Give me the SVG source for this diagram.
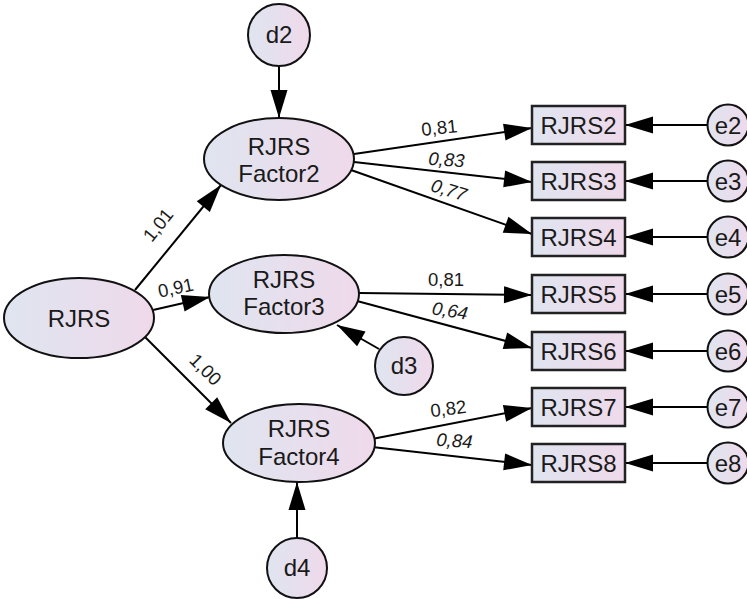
<svg xmlns="http://www.w3.org/2000/svg" width="747" height="599" viewBox="0 0 747 599">
  <defs>
    <linearGradient id="fill" x1="0" y1="0" x2="1" y2="0">
      <stop offset="0" stop-color="#dfe5f0"/>
      <stop offset="1" stop-color="#efd9ea"/>
    </linearGradient>
    <marker id="arrow" markerUnits="userSpaceOnUse" markerWidth="28" markerHeight="17" refX="28" refY="8.5" orient="auto" overflow="visible">
      <path d="M0,0 L28,8.5 L0,17 Z" fill="#000"/>
    </marker>
    <style>
      .shape { fill: url(#fill); stroke: #111; stroke-width: 2; }
      .box { fill: url(#fill); stroke: #222; stroke-width: 2.5; }
      .lbl { font-family: "Liberation Sans", Arial, sans-serif; font-size: 24px; fill: #1a1a1a; text-anchor: middle; }
      .coef { font-family: "Liberation Sans", Arial, sans-serif; font-size: 18.5px; fill: #1a1a1a; text-anchor: middle; }
      .it { font-style: italic; }
      .conn line { stroke: #000; stroke-width: 2; marker-end: url(#arrow); }
    </style>
  </defs>
  <rect width="747" height="599" fill="#fff"/>

  <!-- paths and error terms -->
  <g id="connectors" class="conn">
    <line x1="135" y1="290" x2="221" y2="185"/>
    <line x1="153" y1="310" x2="210" y2="297"/>
    <line x1="145" y1="337" x2="231" y2="423"/>
    <line x1="279" y1="66" x2="279" y2="118"/>
    <line x1="379" y1="349" x2="337" y2="325"/>
    <line x1="297" y1="538" x2="297" y2="482"/>
    <line x1="354" y1="154" x2="532" y2="128"/>
    <line x1="354" y1="162" x2="532" y2="182"/>
    <line x1="351" y1="170" x2="532" y2="234"/>
    <line x1="359" y1="293" x2="532" y2="295"/>
    <line x1="357" y1="301" x2="532" y2="348"/>
    <line x1="372" y1="439" x2="532" y2="408"/>
    <line x1="372" y1="447" x2="532" y2="465"/>
    <line x1="708" y1="125" x2="625" y2="125"/>
    <line x1="708" y1="181" x2="625" y2="181"/>
    <line x1="708" y1="237" x2="625" y2="237"/>
    <line x1="708" y1="294" x2="625" y2="294"/>
    <line x1="708" y1="351" x2="625" y2="351"/>
    <line x1="708" y1="407" x2="625" y2="407"/>
    <line x1="708" y1="463" x2="625" y2="463"/>
  </g>

  <!-- path coefficients -->
  <g id="coefficients">
    <text class="coef" transform="translate(163,229) rotate(-51)">1,01</text>
    <text class="coef" transform="translate(177,294) rotate(-12)">0,91</text>
    <text class="coef" transform="translate(201,374) rotate(45)">1,00</text>
    <text class="coef" transform="translate(440,134) rotate(-6)">0,81</text>
    <text class="coef it" transform="translate(446,166) rotate(4)">0,83</text>
    <text class="coef it" transform="translate(447,196) rotate(17)">0,77</text>
    <text class="coef" transform="translate(446,286)">0,81</text>
    <text class="coef it" transform="translate(449,317) rotate(9)">0,64</text>
    <text class="coef" transform="translate(449,415) rotate(-7)">0,82</text>
    <text class="coef it" transform="translate(454,447) rotate(4)">0,84</text>
  </g>

  <!-- latent variables -->
  <g id="RJRS">
    <ellipse class="shape" cx="79" cy="318" rx="75" ry="40"/>
    <text class="lbl" x="79" y="327">RJRS</text>
  </g>
  <g id="Factor2">
    <ellipse class="shape" cx="279" cy="159" rx="75" ry="41"/>
    <text class="lbl" x="279" y="155">RJRS</text>
    <text class="lbl" x="279" y="182">Factor2</text>
  </g>
  <g id="Factor3">
    <ellipse class="shape" cx="284" cy="294" rx="75" ry="39"/>
    <text class="lbl" x="284" y="288">RJRS</text>
    <text class="lbl" x="284" y="315">Factor3</text>
  </g>
  <g id="Factor4">
    <ellipse class="shape" cx="299" cy="443" rx="76" ry="39"/>
    <text class="lbl" x="299" y="437">RJRS</text>
    <text class="lbl" x="299" y="465">Factor4</text>
  </g>

  <!-- disturbances -->
  <g id="d2">
    <circle class="shape" cx="279" cy="35" r="31"/>
    <text class="lbl" x="279" y="43">d2</text>
  </g>
  <g id="d3">
    <circle class="shape" cx="404" cy="366" r="29"/>
    <text class="lbl" x="404" y="374">d3</text>
  </g>
  <g id="d4">
    <circle class="shape" cx="297" cy="568" r="30"/>
    <text class="lbl" x="297" y="576">d4</text>
  </g>

  <!-- observed items -->
  <g id="RJRS2"><rect class="box" x="532" y="106" width="93" height="38"/><text class="lbl" x="578.5" y="134">RJRS2</text></g>
  <g id="RJRS3"><rect class="box" x="532" y="162" width="93" height="38"/><text class="lbl" x="578.5" y="190">RJRS3</text></g>
  <g id="RJRS4"><rect class="box" x="532" y="218" width="93" height="38"/><text class="lbl" x="578.5" y="246">RJRS4</text></g>
  <g id="RJRS5"><rect class="box" x="532" y="275" width="93" height="38"/><text class="lbl" x="578.5" y="303">RJRS5</text></g>
  <g id="RJRS6"><rect class="box" x="532" y="332" width="93" height="38"/><text class="lbl" x="578.5" y="360">RJRS6</text></g>
  <g id="RJRS7"><rect class="box" x="532" y="388" width="93" height="38"/><text class="lbl" x="578.5" y="416">RJRS7</text></g>
  <g id="RJRS8"><rect class="box" x="532" y="444" width="93" height="38"/><text class="lbl" x="578.5" y="472">RJRS8</text></g>

  <!-- measurement errors -->
  <g id="e2"><circle class="shape" cx="728" cy="125" r="20.5"/><text class="lbl" x="728" y="134">e2</text></g>
  <g id="e3"><circle class="shape" cx="728" cy="181" r="20.5"/><text class="lbl" x="728" y="190">e3</text></g>
  <g id="e4"><circle class="shape" cx="728" cy="237" r="20.5"/><text class="lbl" x="728" y="246">e4</text></g>
  <g id="e5"><circle class="shape" cx="728" cy="294" r="20.5"/><text class="lbl" x="728" y="303">e5</text></g>
  <g id="e6"><circle class="shape" cx="728" cy="351" r="20.5"/><text class="lbl" x="728" y="360">e6</text></g>
  <g id="e7"><circle class="shape" cx="728" cy="407" r="20.5"/><text class="lbl" x="728" y="416">e7</text></g>
  <g id="e8"><circle class="shape" cx="728" cy="463" r="20.5"/><text class="lbl" x="728" y="472">e8</text></g>
</svg>
